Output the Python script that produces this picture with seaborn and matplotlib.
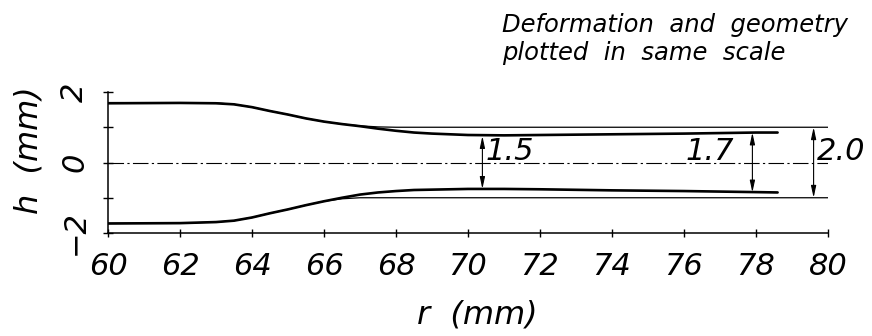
import numpy as np
import pandas as pd
import matplotlib
matplotlib.use("Agg")
import matplotlib.pyplot as plt
import seaborn as sns

# ---------------- data ----------------
# deformed contour (thick lines)
def_r = [60, 62, 63, 63.5, 64, 64.5, 65, 65.5, 66, 66.5, 67, 67.5, 68, 68.5,
         69, 69.5, 70, 71, 72, 74, 76, 78, 78.6]
def_upper = [1.68, 1.69, 1.68, 1.65, 1.57, 1.46, 1.36, 1.25, 1.16, 1.09, 1.03,
             0.96, 0.90, 0.85, 0.82, 0.80, 0.78, 0.77, 0.78, 0.80, 0.82, 0.85, 0.85]
def_lower = [-1.73, -1.72, -1.69, -1.65, -1.56, -1.44, -1.33, -1.21, -1.10, -1.00,
             -0.91, -0.85, -0.81, -0.78, -0.77, -0.76, -0.75, -0.75, -0.76,
             -0.79, -0.81, -0.84, -0.85]

# original geometry (thin lines)
geo_up_r = [60, 63, 63.5, 64, 64.5, 65, 65.5, 66, 66.5, 67, 67.5, 68, 80]
geo_upper = [1.70, 1.69, 1.65, 1.57, 1.46, 1.36, 1.25, 1.16, 1.09, 1.04, 1.01, 1.0, 1.0]
geo_lo_r = [60, 62, 63, 63.5, 64, 64.5, 65, 65.5, 66, 66.5, 67, 80]
geo_lower = [-1.73, -1.72, -1.69, -1.65, -1.56, -1.44, -1.33, -1.21, -1.10,
             -1.03, -1.0, -1.0]

# thickness dimensions
dim_r = [70.4, 77.9, 79.6]
dim_vals = [1.5, 1.7, 2.0]
dim_side = ["left", "right", "left"]

x_ticks = list(range(60, 81, 2))
y_ticks = [-2, -1, 0, 1, 2]
y_tick_labels = ["\u22122", "", "0", "", "2"]

title_lines = ["Deformation  and  geometry", "plotted  in  same  scale"]

# ---------------- styling ----------------
sns.set_theme(style="white")
plt.rcParams["font.family"] = ["DejaVu Sans"]
plt.rcParams["font.style"] = "italic"
plt.rcParams["axes.unicode_minus"] = True

W, H = 872, 336
fig = plt.figure(figsize=(W / 100, H / 100), dpi=100)
fig.patch.set_facecolor("white")
ax = fig.add_axes([108 / W, 103 / H, 720 / W, 141 / H])
ax.set_facecolor("white")

thick = dict(color="black", lw=1.9)
thin = dict(color="black", lw=0.9)

sns.lineplot(x=def_r, y=def_upper, ax=ax, sort=False, estimator=None, **thick)
sns.lineplot(x=def_r, y=def_lower, ax=ax, sort=False, estimator=None, **thick)
sns.lineplot(x=geo_up_r, y=geo_upper, ax=ax, sort=False, estimator=None, **thin)
sns.lineplot(x=geo_lo_r, y=geo_lower, ax=ax, sort=False, estimator=None, **thin)

# centre line (dash-dot)
ax.axhline(0, color="black", lw=0.8, linestyle=(0, (14, 3, 2, 3)))

# dimension arrows and labels
for r, v, side in zip(dim_r, dim_vals, dim_side):
    ax.annotate("", xy=(r, v / 2), xytext=(r, -v / 2),
                arrowprops=dict(arrowstyle="<|-|>,head_length=0.7,head_width=0.15",
                                color="black", lw=0.8, shrinkA=0, shrinkB=0,
                                mutation_scale=10))
    off = 0.1 if side == "left" else -0.5
    ax.text(r + off, 0.08, f"{v:.1f}", ha=side, va="baseline", fontsize=22,
            color="black")

ax.set_xlim(60, 80)
ax.set_ylim(-2, 2)
ax.set_xticks(x_ticks)
ax.set_xticklabels([str(t) for t in x_ticks])
ax.set_yticks(y_ticks)
ax.set_yticklabels(y_tick_labels, rotation=90, va="center")

for s in ["top", "right"]:
    ax.spines[s].set_visible(False)
for s in ["left", "bottom"]:
    ax.spines[s].set_color("black")
    ax.spines[s].set_linewidth(1.1)

ax.tick_params(axis="x", direction="inout", length=6, width=1, colors="black",
               labelsize=22, pad=11, bottom=True)
ax.tick_params(axis="y", direction="inout", length=7, width=1, colors="black",
               labelsize=22, pad=10, left=True)

ax.set_xlabel("r  (mm)", fontsize=23, color="black")
ax.xaxis.set_label_coords(0.5125, -0.47)
ax.xaxis.label.set_va("top")
ax.set_ylabel("h  (mm)", fontsize=23, color="black")
ax.yaxis.set_label_coords(-0.088, 0.589)

fig.text(502 / W, 1 - 32 / H, title_lines[0], fontsize=17.5, ha="left",
         va="baseline", color="black")
fig.text(502 / W, 1 - 60 / H, title_lines[1], fontsize=17.5, ha="left",
         va="baseline", color="black")

fig.savefig("out.png", dpi=100, facecolor="white")
